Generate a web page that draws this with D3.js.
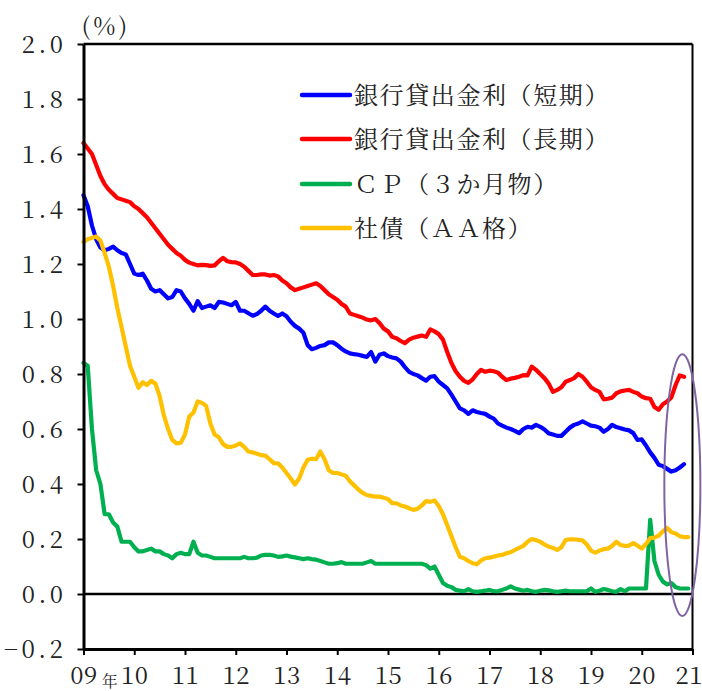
<!DOCTYPE html>
<html>
<head>
<meta charset="utf-8">
<script src="https://cdn.jsdelivr.net/npm/d3@7"></script>
<style>
  html, body { margin: 0; padding: 0; background: #fff; }
  svg { display: block; }
</style>
</head>
<body>
<svg id="chart" width="702" height="691"></svg>
<script>
// ---- data (monthly, starting Jan 2009) ----
const startYear = 2009;
const seriesNames = ["銀行貸出金利（短期）", "銀行貸出金利（長期）", "ＣＰ（３か月物）", "社債（ＡＡ格）"];
const seriesColors = ["#0000FF", "#FF0000", "#00B050", "#FFC000"];

const shortRate = [
  1.45, 1.41, 1.34, 1.29, 1.26, 1.25, 1.255, 1.263, 1.25, 1.24, 1.235, 1.20,
  1.165, 1.16, 1.165, 1.14, 1.11, 1.10, 1.105, 1.09, 1.075, 1.08, 1.105, 1.10,
  1.075, 1.055, 1.03, 1.065, 1.04, 1.045, 1.05, 1.04, 1.062, 1.06, 1.055, 1.05,
  1.062, 1.03, 1.03, 1.021, 1.012, 1.018, 1.03, 1.045, 1.03, 1.02, 1.011, 1.02,
  1.01, 0.99, 0.975, 0.965, 0.95, 0.905, 0.89, 0.895, 0.902, 0.905, 0.915, 0.915,
  0.905, 0.892, 0.882, 0.875, 0.872, 0.87, 0.866, 0.862, 0.88, 0.845, 0.87, 0.875,
  0.865, 0.86, 0.857, 0.845, 0.825, 0.808, 0.80, 0.795, 0.785, 0.776, 0.79, 0.792,
  0.772, 0.76, 0.748, 0.725, 0.70, 0.675, 0.668, 0.655, 0.668, 0.662, 0.658, 0.655,
  0.645, 0.638, 0.62, 0.612, 0.605, 0.60, 0.593, 0.585, 0.60, 0.608, 0.605, 0.615,
  0.608, 0.598, 0.584, 0.58, 0.575, 0.575, 0.59, 0.605, 0.615, 0.62, 0.628, 0.62,
  0.612, 0.61, 0.605, 0.59, 0.60, 0.615, 0.607, 0.603, 0.598, 0.595, 0.585, 0.56,
  0.562, 0.54, 0.515, 0.495, 0.47, 0.465, 0.455, 0.445, 0.45, 0.46, 0.472
];
const longRate = [
  1.64, 1.62, 1.60, 1.56, 1.52, 1.49, 1.47, 1.455, 1.44, 1.435, 1.43, 1.425,
  1.41, 1.40, 1.385, 1.37, 1.35, 1.33, 1.31, 1.29, 1.27, 1.255, 1.24, 1.23,
  1.215, 1.205, 1.20, 1.195, 1.197, 1.196, 1.193, 1.195, 1.21, 1.222, 1.21, 1.207,
  1.206, 1.20, 1.19, 1.175, 1.16, 1.16, 1.162, 1.162, 1.158, 1.16, 1.155, 1.14,
  1.13, 1.115, 1.105, 1.11, 1.115, 1.12, 1.125, 1.13, 1.12, 1.105, 1.09, 1.08,
  1.07, 1.055, 1.045, 1.02, 1.015, 1.01, 1.005, 0.998, 0.995, 1.0, 0.985, 0.965,
  0.955, 0.935, 0.93, 0.92, 0.912, 0.925, 0.932, 0.936, 0.94, 0.935, 0.962, 0.955,
  0.945, 0.925, 0.88, 0.84, 0.81, 0.79, 0.775, 0.768, 0.78, 0.80, 0.815, 0.808,
  0.812, 0.81, 0.805, 0.79, 0.778, 0.783, 0.786, 0.79, 0.796, 0.795, 0.827, 0.815,
  0.80, 0.785, 0.765, 0.735, 0.742, 0.752, 0.772, 0.778, 0.785, 0.80, 0.79, 0.772,
  0.752, 0.742, 0.735, 0.708, 0.71, 0.714, 0.73, 0.737, 0.74, 0.742, 0.735, 0.73,
  0.718, 0.712, 0.71, 0.68, 0.67, 0.69, 0.70, 0.715, 0.76, 0.795, 0.79
];
const cpRate = [
  0.84, 0.83, 0.60, 0.45, 0.40, 0.29, 0.29, 0.26, 0.245, 0.19, 0.19, 0.19,
  0.17, 0.155, 0.155, 0.16, 0.165, 0.155, 0.155, 0.145, 0.14, 0.13, 0.145, 0.15,
  0.145, 0.145, 0.19, 0.15, 0.14, 0.14, 0.135, 0.13, 0.13, 0.13, 0.13, 0.13,
  0.13, 0.13, 0.135, 0.13, 0.13, 0.132, 0.14, 0.142, 0.142, 0.14, 0.135, 0.137,
  0.14, 0.136, 0.133, 0.13, 0.127, 0.13, 0.127, 0.125, 0.12, 0.115, 0.11, 0.11,
  0.112, 0.116, 0.11, 0.11, 0.11, 0.11, 0.11, 0.115, 0.12, 0.11, 0.11, 0.11,
  0.11, 0.11, 0.11, 0.11, 0.11, 0.11, 0.11, 0.11, 0.11, 0.105, 0.092, 0.10,
  0.07, 0.04, 0.03, 0.025, 0.015, 0.012, 0.01, 0.018, 0.01, 0.008, 0.01, 0.012,
  0.015, 0.01, 0.01, 0.015, 0.02, 0.028, 0.02, 0.016, 0.012, 0.015, 0.01, 0.008,
  0.012, 0.015, 0.013, 0.01, 0.008, 0.01, 0.012, 0.01, 0.01, 0.01, 0.01, 0.01,
  0.02, 0.008, 0.012, 0.018, 0.015, 0.01, 0.008, 0.018, 0.01, 0.02, 0.02, 0.02,
  0.02, 0.02, 0.27, 0.12, 0.07, 0.045, 0.035, 0.04, 0.025, 0.02, 0.02, 0.02
];
const bondRate = [
  1.28, 1.29, 1.295, 1.30, 1.285, 1.24, 1.19, 1.12, 1.04, 0.97, 0.90, 0.83,
  0.79, 0.75, 0.77, 0.76, 0.775, 0.765, 0.72, 0.65, 0.60, 0.56, 0.548, 0.55,
  0.58, 0.645, 0.66, 0.70, 0.695, 0.684, 0.62, 0.58, 0.57, 0.545, 0.535, 0.535,
  0.54, 0.548, 0.535, 0.518, 0.515, 0.51, 0.505, 0.503, 0.49, 0.476, 0.475, 0.46,
  0.44, 0.42, 0.398, 0.42, 0.46, 0.488, 0.492, 0.49, 0.518, 0.49, 0.45, 0.44,
  0.44, 0.435, 0.43, 0.41, 0.395, 0.38, 0.368, 0.36, 0.357, 0.354, 0.354, 0.35,
  0.345, 0.33, 0.33, 0.322, 0.318, 0.312, 0.306, 0.31, 0.322, 0.338, 0.335, 0.34,
  0.32, 0.29, 0.25, 0.21, 0.17, 0.135, 0.13, 0.12, 0.112, 0.108, 0.122, 0.13,
  0.132, 0.136, 0.14, 0.142, 0.148, 0.152, 0.16, 0.168, 0.175, 0.19, 0.2, 0.196,
  0.19, 0.18, 0.172, 0.168, 0.16, 0.17, 0.196, 0.199, 0.199, 0.197, 0.195, 0.18,
  0.158, 0.15, 0.158, 0.163, 0.165, 0.175, 0.19, 0.178, 0.175, 0.176, 0.185, 0.176,
  0.165, 0.182, 0.203, 0.205, 0.212, 0.228, 0.24, 0.225, 0.22, 0.21, 0.207, 0.207
];
const yTicks = [-0.2, 0, 0.2, 0.4, 0.6, 0.8, 1.0, 1.2, 1.4, 1.6, 1.8, 2.0];
const xTicks = [2009, 2010, 2011, 2012, 2013, 2014, 2015, 2016, 2017, 2018, 2019, 2020, 2021];
const unitLabel = "(%)";
const yearSuffix = "年";
// highlight ellipse (data units): centre date/value, half-width in years, half-height in %
const highlight = { date: 2020.8, value: 0.396, rYears: 0.355, rValue: 0.476 };

const mincho = "'Noto Serif CJK JP', 'Liberation Serif', serif";

// ---- chart ----
const svg = d3.select("#chart");
const x = d3.scaleLinear().domain([2009, 2021]).range([83.5, 692.5]);
const y = d3.scaleLinear().domain([-0.2, 2.0]).range([649, 44]);

// frame: top and right
svg.append("line").attr("x1", x(2009)).attr("x2", x(2021)).attr("y1", y(2.0)).attr("y2", y(2.0))
  .attr("stroke", "#000").attr("stroke-width", 2.5);
svg.append("line").attr("x1", x(2021)).attr("x2", x(2021)).attr("y1", y(2.0)).attr("y2", y(-0.2))
  .attr("stroke", "#000").attr("stroke-width", 2);

// zero line
svg.append("line").attr("x1", x(2009)).attr("x2", x(2021)).attr("y1", y(0)).attr("y2", y(0))
  .attr("stroke", "#000").attr("stroke-width", 2.5);

// series
const allSeries = [shortRate, longRate, cpRate, bondRate];
const line = d3.line()
  .x((d, i) => x(startYear + i / 12))
  .y(d => y(d));
allSeries.forEach((vals, k) => {
  svg.append("path")
    .datum(vals)
    .attr("fill", "none")
    .attr("stroke", seriesColors[k])
    .attr("stroke-width", 4.2)
    .attr("stroke-linejoin", "round")
    .attr("stroke-linecap", "round")
    .attr("d", line);
});

// y axis
const yAxis = d3.axisLeft(y)
  .tickValues(yTicks)
  .tickSize(6)
  .tickSizeOuter(0)
  .tickPadding(14)
  .tickFormat(d3.format(".1f"));
const gy = svg.append("g").attr("transform", `translate(${x(2009)},0)`).call(yAxis)
  .attr("font-family", mincho).attr("font-size", 24);
gy.select(".domain").attr("stroke-width", 3);
gy.selectAll(".tick line").attr("stroke-width", 2);
gy.selectAll(".tick text").attr("fill", "#222").attr("letter-spacing", 3.5).attr("dx", 3).attr("dy", "0.34em");

// x axis
const xAxis = d3.axisBottom(x)
  .tickValues(xTicks)
  .tickSize(6)
  .tickSizeOuter(0)
  .tickPadding(12)
  .tickFormat(d => String(d).slice(2));
const gx = svg.append("g").attr("transform", `translate(0,${y(-0.2)})`).call(xAxis)
  .attr("font-family", mincho).attr("font-size", 24);
gx.select(".domain").attr("stroke-width", 3);
gx.selectAll(".tick line").attr("stroke-width", 2);
gx.selectAll(".tick text").attr("fill", "#222").attr("letter-spacing", 0.5);
gx.selectAll(".tick text").filter(d => d === 2021).attr("text-anchor", "end").attr("dx", 10);

// year suffix
svg.append("text")
  .attr("x", (x(2009) + x(2010)) / 2 + 1)
  .attr("y", 687)
  .attr("text-anchor", "middle")
  .attr("font-family", mincho)
  .attr("font-size", 16)
  .attr("fill", "#222")
  .text(yearSuffix);

// unit label
svg.append("text")
  .attr("x", x(2009) - 2)
  .attr("y", 35)
  .attr("font-family", mincho)
  .attr("font-size", 24)
  .attr("letter-spacing", 3)
  .attr("fill", "#222")
  .text(unitLabel);

// legend
const legendRows = [95, 139, 184, 228];
const lg = svg.append("g");
seriesNames.forEach((name, k) => {
  lg.append("line")
    .attr("x1", 302).attr("x2", 350)
    .attr("y1", legendRows[k]).attr("y2", legendRows[k])
    .attr("stroke", seriesColors[k])
    .attr("stroke-width", 4.5)
    .attr("stroke-linecap", "round");
  lg.append("text")
    .attr("x", 354)
    .attr("y", legendRows[k])
    .attr("dy", "0.36em")
    .attr("font-family", mincho)
    .attr("font-size", 24)
    .attr("letter-spacing", 1.6)
    .attr("fill", "#222")
    .text(name);
});

// highlight ellipse
svg.append("ellipse")
  .attr("cx", x(highlight.date))
  .attr("cy", y(highlight.value))
  .attr("rx", x(highlight.date + highlight.rYears) - x(highlight.date))
  .attr("ry", y(highlight.value - highlight.rValue) - y(highlight.value))
  .attr("fill", "none")
  .attr("stroke", "#8064A2")
  .attr("stroke-width", 2);
</script>
</body>
</html>
